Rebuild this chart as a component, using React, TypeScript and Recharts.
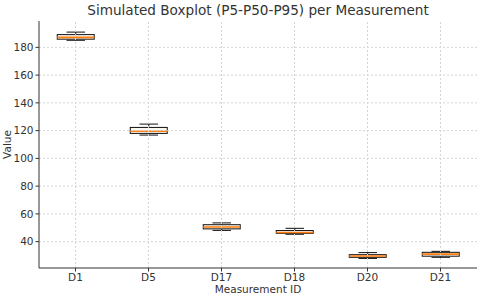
import React from "react";
import { ComposedChart, Bar, XAxis, YAxis, ReferenceLine, Label } from "recharts";

const ids = ["D1", "D5", "D17", "D18", "D20", "D21"];
const p5 = [185.1, 116.8, 48.1, 45.3, 27.9, 28.7];
const q1 = [185.9, 118.0, 49.2, 46.0, 28.7, 29.5];
const p50 = [187.2, 119.6, 50.5, 46.6, 29.7, 31.0];
const q3 = [189.2, 122.3, 52.2, 48.0, 30.6, 32.3];
const p95 = [191.0, 124.7, 53.5, 49.6, 32.1, 33.0];
const yTicks = [40, 60, 80, 100, 120, 140, 160, 180];

const data = ids.map((id, i) => ({ id, p5: p5[i], q1: q1[i], p50: p50[i], q3: q3[i], p95: p95[i] }));

const font = "DejaVu Sans, sans-serif";
const ink = "#333333";
const gridColor = "#d4d4d4";

// the bar spans p5..p95, so its pixel height gives the scale for the inner points
function BoxShape(props: any) {
  const { x, y, width, height, payload } = props;
  if (!payload) return null;
  const top = Math.min(y, y + height);
  const h = Math.abs(height);
  const k = h / (payload.p95 - payload.p5);
  const yOf = (v: number) => top + (payload.p95 - v) * k;
  const cx = x + width / 2;
  const capW = width / 2;
  return (
    <g>
      <line x1={cx} x2={cx} y1={yOf(payload.p95)} y2={yOf(payload.q3)} stroke="#111" strokeWidth={1} />
      <line x1={cx} x2={cx} y1={yOf(payload.q1)} y2={yOf(payload.p5)} stroke="#111" strokeWidth={1} />
      <line x1={cx - capW / 2} x2={cx + capW / 2} y1={yOf(payload.p95)} y2={yOf(payload.p95)} stroke="#111" strokeWidth={1} />
      <line x1={cx - capW / 2} x2={cx + capW / 2} y1={yOf(payload.p5)} y2={yOf(payload.p5)} stroke="#111" strokeWidth={1} />
      <rect x={x} y={yOf(payload.q3)} width={width} height={yOf(payload.q1) - yOf(payload.q3)} fill="#fdf7f2" stroke="#111" strokeWidth={1} />
      <line x1={x} x2={x + width} y1={yOf(payload.p50)} y2={yOf(payload.p50)} stroke="#ff7f0e" strokeWidth={1.6} />
    </g>
  );
}

export default function App() {
  return (
    <div style={{ position: "absolute", left: 0, top: 0, width: 480, height: 297, background: "#fff", fontFamily: font }}>
      <style>{`body{margin:0}`}</style>
      <div style={{ position: "absolute", left: 39, width: 438, top: 2, textAlign: "center", fontSize: 13.6, color: ink, fontFamily: font }}>
        Simulated Boxplot (P5-P50-P95) per Measurement
      </div>
      <ComposedChart width={480} height={297} data={data} margin={{ top: 21, right: 3, bottom: 0, left: 0 }} barCategoryGap="25%">
        {/* grid drawn as reference lines so there are no edge lines */}
        {yTicks.map((t) => (
          <ReferenceLine key={"h" + t} y={t} stroke={gridColor} strokeDasharray="2 2" />
        ))}
        {ids.map((id) => (
          <ReferenceLine key={"v" + id} x={id} stroke={gridColor} strokeDasharray="2 2" />
        ))}
        <XAxis
          dataKey="id"
          height={29}
          stroke={ink}
          tickSize={3.5}
          tick={{ fontSize: 10.5, fill: ink, fontFamily: font }}
          tickMargin={2}
        >
          <Label value="Measurement ID" position="insideBottom" offset={4} style={{ fontSize: 10.5, fill: ink, fontFamily: font }} />
        </XAxis>
        <YAxis
          type="number"
          domain={[21, 199]}
          ticks={yTicks}
          width={39}
          stroke={ink}
          tickSize={3.5}
          tickMargin={2}
          tick={{ fontSize: 10.5, fill: ink, fontFamily: font }}
        >
          <Label value="Value" angle={-90} position="insideLeft" offset={7} style={{ fontSize: 10.5, fill: ink, fontFamily: font, textAnchor: "middle" }} />
        </YAxis>
        <Bar dataKey={(d: any) => [d.p5, d.p95]} shape={BoxShape} isAnimationActive={false} />
      </ComposedChart>
    </div>
  );
}
